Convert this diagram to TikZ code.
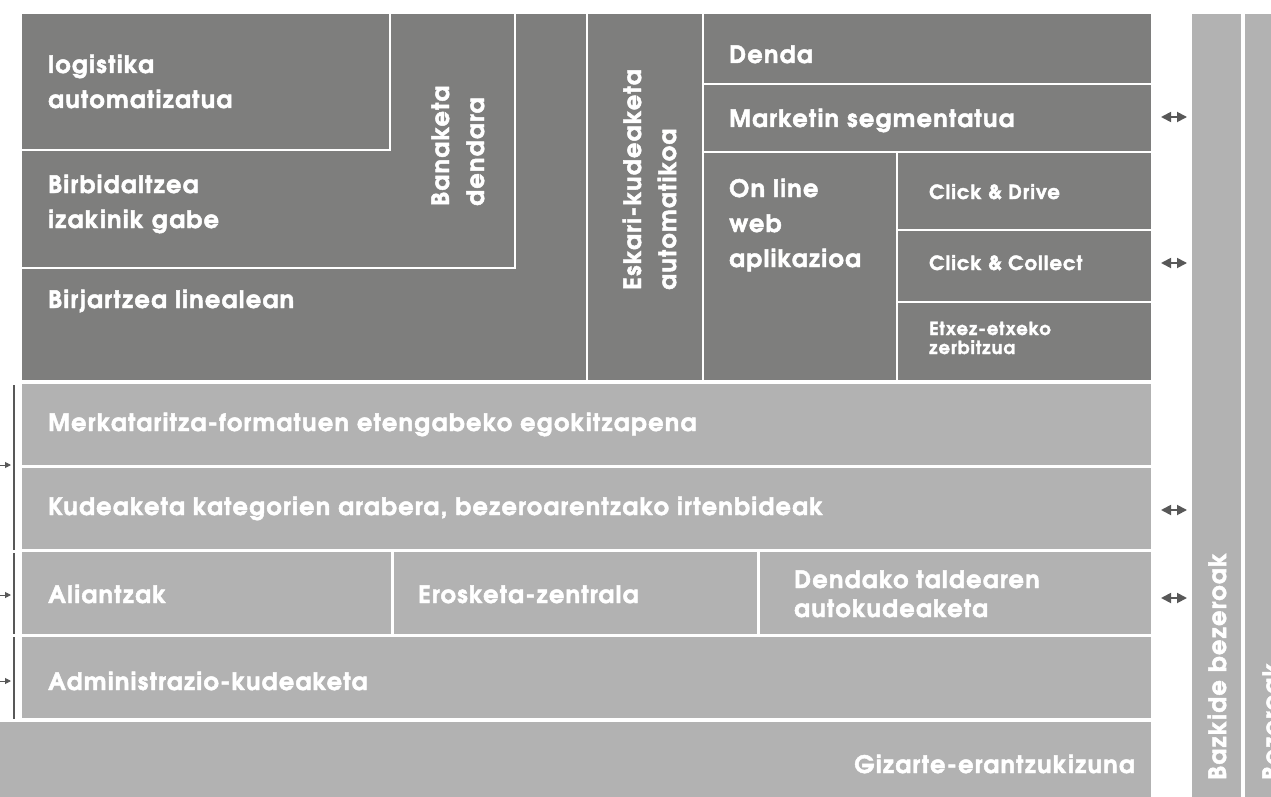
\documentclass[tikz,border=0pt]{standalone}
\usepackage{fontspec}
\newfontfamily\advbold{texgyreadventor-bold.otf}[FakeBold=2,LetterSpace=5.5]
\usetikzlibrary{arrows.meta}
\definecolor{darkfill}{HTML}{7E7E7D}
\definecolor{lightfill}{HTML}{B2B2B2}
\definecolor{arrowgray}{HTML}{585858}
\begin{document}
\begin{tikzpicture}[x=1pt,y=-1pt,
  darkbox/.style={fill=darkfill,draw=none},
  lightbox/.style={fill=lightfill,draw=none},
  sep/.style={draw=white,line width=1.6pt},
  big/.style={text=white,font=\advbold\fontsize{24}{35}\selectfont,inner sep=0pt,align=left},
  small/.style={text=white,font=\advbold\fontsize{19.5}{19}\selectfont,inner sep=0pt,align=left},
  tiny/.style={text=white,font=\advbold\fontsize{18}{19}\selectfont,inner sep=0pt,align=left},
  dbl/.style={arrowgray,line width=1.8pt,{Triangle[length=10pt,width=10pt]}-{Triangle[length=10pt,width=10pt]}},
  sgl/.style={arrowgray,line width=1pt,-{Triangle[length=6pt,width=6pt]}},
  bracket/.style={draw=arrowgray,line width=1.6pt}]
\useasboundingbox (0,0) rectangle (1271,797);
\clip (0,0) rectangle (1271,797);
% dark area
\path[darkbox] (22,14) rectangle (1151,380);
\draw[sep] (22,150) -- (390,150) -- (390,14);
\draw[sep] (22,268) -- (515,268) -- (515,14);
\draw[sep] (587,14) -- (587,380);
\draw[sep] (703,14) -- (703,380);
\draw[sep] (703,84) -- (1151,84);
\draw[sep] (703,152) -- (1151,152);
\draw[sep] (897,152) -- (897,380);
\draw[sep] (897,230) -- (1151,230);
\draw[sep] (897,302) -- (1151,302);
% light rows
\path[lightbox] (22,384) rectangle (1151,465);
\path[lightbox] (22,468) rectangle (1151,549);
\path[lightbox] (22,552) rectangle (391,634);
\path[lightbox] (394,552) rectangle (757,634);
\path[lightbox] (760,552) rectangle (1151,634);
\path[lightbox] (22,637) rectangle (1151,718);
\path[lightbox] (0,722) rectangle (1151,797);
% right columns
\path[lightbox] (1192,14) rectangle (1241,797);
\path[lightbox] (1245,14) rectangle (1271,797);
% texts dark
\node[big,anchor=base west] (logi) at (48,73) {logistika};
\node[big,anchor=base west] (logi2) at (48,108) {automatizatua};
\node[big,anchor=base west] (birb) at (48,193) {Birbidaltzea};
\node[big,anchor=base west] (birb2) at (48,228) {izakinik gabe};
\node[big,anchor=base west] (birj) at (48,308) {Birjartzea linealean};
\node[big,anchor=base west,rotate=90] (bana) at (449,206) {Banaketa};
\node[big,anchor=base west,rotate=90] (bana2) at (484,206) {dendara};
\node[big,anchor=base west,rotate=90] (eska) at (641,290) {Eskari-kudeaketa};
\node[big,anchor=base west,rotate=90] (eska2) at (676,290) {automatikoa};
\node[big,anchor=base west] (denda) at (729,63) {Denda};
\node[big,anchor=base west] (mark) at (729,127) {Marketin segmentatua};
\node[big,anchor=base west] (onl) at (729,197) {On line};
\node[big,anchor=base west] (onl2) at (729,232) {web};
\node[big,anchor=base west] (onl3) at (729,267) {aplikazioa};
\node[small,anchor=base west] (cdr) at (929,199) {Click \& Drive};
\node[small,anchor=base west] (ccol) at (929,270) {Click \& Collect};
\node[tiny,anchor=base west] (etx) at (929,335) {Etxez-etxeko};
\node[tiny,anchor=base west] (etx2) at (929,354) {zerbitzua};
% texts light
\node[big,anchor=base west] (merk) at (48,431) {Merkataritza-formatuen etengabeko egokitzapena};
\node[big,anchor=base west] (kude) at (48,515) {Kudeaketa kategorien arabera, bezeroarentzako irtenbideak};
\node[big,anchor=base west] (alia) at (48,603) {Aliantzak};
\node[big,anchor=base west] (eros) at (418,603) {Erosketa-zentrala};
\node[big,anchor=base west] (dend) at (794,588) {Dendako taldearen};
\node[big,anchor=base west] (dend2) at (794,617) {autokudeaketa};
\node[big,anchor=base west] (admi) at (48,690) {Administrazio-kudeaketa};
\node[big,anchor=base east] (giza) at (1135,773) {Gizarte-erantzukizuna};
\node[big,anchor=base west,rotate=90] (bazk) at (1226,780) {Bazkide bezeroak};
\node[big,anchor=base west,rotate=90] (beze) at (1280,780) {Bezeroak};
% right arrows
\coordinate (r1a) at (1161,117); \coordinate (r1b) at (1187,117);
\coordinate (r2a) at (1161,263); \coordinate (r2b) at (1187,263);
\coordinate (r3a) at (1161,510); \coordinate (r3b) at (1187,510);
\coordinate (r4a) at (1161,598); \coordinate (r4b) at (1187,598);
\draw[dbl] (r1a) -- (r1b);
\draw[dbl] (r2a) -- (r2b);
\draw[dbl] (r3a) -- (r3b);
\draw[dbl] (r4a) -- (r4b);
% left brackets and arrows
\draw[bracket] (14,385) -- (14,550);
\draw[bracket] (14,553) -- (14,634);
\draw[bracket] (14,637) -- (14,719);
\coordinate (l1a) at (0,465); \coordinate (l1b) at (11,465);
\coordinate (l2a) at (0,595); \coordinate (l2b) at (11,595);
\coordinate (l3a) at (0,681); \coordinate (l3b) at (11,681);
\draw[sgl] (l1a) -- (l1b);
\draw[sgl] (l2a) -- (l2b);
\draw[sgl] (l3a) -- (l3b);
\end{tikzpicture}
\end{document}
